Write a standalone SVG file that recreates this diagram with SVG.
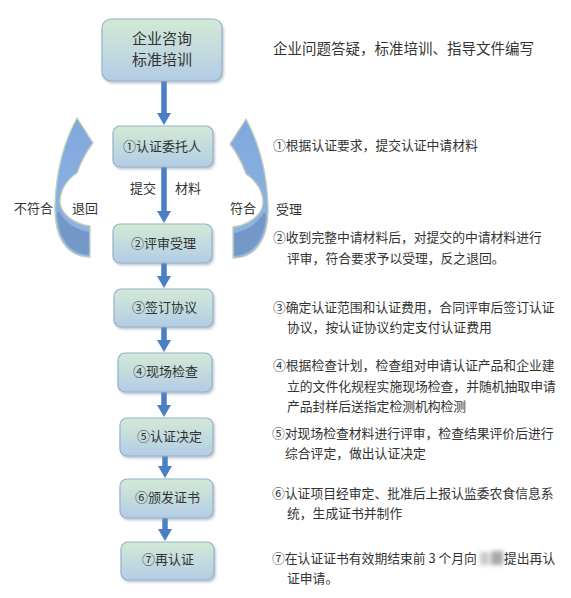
<svg xmlns="http://www.w3.org/2000/svg" width="571" height="598" viewBox="0 0 571 598">
<defs>
<linearGradient id="boxg" x1="0" y1="0" x2="0" y2="1">
<stop offset="0" stop-color="#d3ead5"/>
<stop offset="1" stop-color="#b3cce6"/>
</linearGradient>
<linearGradient id="arrg" x1="0" y1="0" x2="0" y2="1">
<stop offset="0" stop-color="#7fa8de"/>
<stop offset="1" stop-color="#93b6e3"/>
</linearGradient>
<filter id="sh" x="-10%" y="-10%" width="125%" height="130%">
<feDropShadow dx="1.5" dy="2" stdDeviation="1.2" flood-color="#7a8a99" flood-opacity="0.45"/>
</filter>
<filter id="blur" x="-30%" y="-50%" width="160%" height="200%">
<feGaussianBlur stdDeviation="2"/>
</filter>
<marker id="ah" viewBox="0 0 12 14" refX="4" refY="7" markerWidth="12" markerHeight="14" markerUnits="userSpaceOnUse" orient="auto">
<path d="M0,0 L12,7 L0,14 z" fill="#4a7fc4"/>
</marker>
</defs>
<style>
.box{fill:url(#boxg);stroke:#93b2cd;stroke-width:1.2;filter:url(#sh)}
.bt{font-family:"Noto Sans CJK SC",sans-serif;font-size:13px;fill:#333}
.tt{font-family:"Noto Sans CJK SC",sans-serif;font-size:15px;fill:#333}
.rt{font-family:"Noto Sans CJK SC",sans-serif;font-size:12.8px;fill:#333}
.h{font-family:"Noto Sans CJK SC",sans-serif;font-size:14.5px;fill:#333}
.lk{stroke:#4a7fc4;stroke-width:5.5;fill:none;marker-end:url(#ah)}
.carr{fill:url(#arrg);stroke:#c3d0b8;stroke-width:1.3}
.cdark{fill:#6f93c2;opacity:0.85}
</style>
<rect width="571" height="598" fill="#ffffff"/>

<g id="connectors">
<line class="lk" x1="164" y1="81" x2="164" y2="117"/>
<line class="lk" x1="164" y1="167" x2="164" y2="215"/>
<line class="lk" x1="164" y1="263" x2="164" y2="280"/>
<line class="lk" x1="164" y1="327" x2="164" y2="344"/>
<line class="lk" x1="164" y1="392" x2="164" y2="409"/>
<line class="lk" x1="165" y1="456" x2="165" y2="470"/>
<line class="lk" x1="165" y1="518" x2="165" y2="533"/>
</g>

<g id="loop-left">
<path class="carr" d="M77,118 L93,143 Q83,156 77,173 C66,180 60,191 60,202 C61,215 75,224 90,226 L90,257 C65,257 54,235 55,205 C56,170 65,140 77,118 Z"/>
<path class="cdark" d="M59,211 C64,222 77,230 89,232 L89,255 C68,254 58,236 57,213 Z"/>
</g>
<g id="loop-right" transform="translate(323,1) scale(-1,1)">
<path class="carr" d="M77,118 L93,143 Q83,156 77,173 C66,180 60,191 60,202 C61,215 75,224 90,226 L90,257 C65,257 54,235 55,205 C56,170 65,140 77,118 Z"/>
<path class="cdark" d="M59,211 C64,222 77,230 89,232 L89,255 C68,254 58,236 57,213 Z"/>
</g>

<g id="node-consult">
<rect class="box" x="102" y="19" width="120" height="62" rx="9"/>
<text class="tt" x="162" y="43.5" text-anchor="middle">企业咨询</text>
<text class="tt" x="162" y="64.5" text-anchor="middle">标准培训</text>
</g>
<g id="node-1">
<rect class="box" x="113" y="126" width="100" height="41" rx="7"/>
<text class="bt" x="123" y="151">①认证委托人</text>
</g>
<g id="node-2">
<rect class="box" x="113" y="224" width="99" height="39" rx="7"/>
<text class="bt" x="131" y="248">②评审受理</text>
</g>
<g id="node-3">
<rect class="box" x="114" y="289" width="99" height="38" rx="7"/>
<text class="bt" x="132" y="312">③签订协议</text>
</g>
<g id="node-4">
<rect class="box" x="118" y="353" width="94" height="39" rx="7"/>
<text class="bt" x="133" y="376">④现场检查</text>
</g>
<g id="node-5">
<rect class="box" x="120" y="418" width="93" height="38" rx="7"/>
<text class="bt" x="137" y="441">⑤认证决定</text>
</g>
<g id="node-6">
<rect class="box" x="120" y="479" width="93" height="39" rx="7"/>
<text class="bt" x="135" y="502">⑥颁发证书</text>
</g>
<g id="node-7">
<rect class="box" x="121" y="542" width="93" height="38" rx="7"/>
<text class="bt" x="142" y="564">⑦再认证</text>
</g>

<g id="labels">
<text class="bt" x="130" y="193">提交</text>
<text class="bt" x="175" y="193">材料</text>
<text class="bt" x="14" y="213">不符合</text>
<text class="bt" x="72" y="213">退回</text>
<text class="bt" x="230" y="213">符合</text>
<text class="bt" x="276" y="214">受理</text>
</g>

<g id="descriptions">
<text class="h" x="273" y="53.5">企业问题答疑，标准培训、指导文件编写</text>
<text class="rt" x="273" y="150">①根据认证要求，提交认证中请材料</text>
<text class="rt" x="273" y="242">②收到完整中请材料后，对提交的中请材料进行</text>
<text class="rt" x="287" y="263">评审，符合要求予以受理，反之退回。</text>
<text class="rt" x="273" y="312">③确定认证范围和认证费用，合同评审后签订认证</text>
<text class="rt" x="287" y="332">协议，按认证协议约定支付认证费用</text>
<text class="rt" x="273" y="370">④根据检查计划，检查组对申请认证产品和企业建</text>
<text class="rt" x="287" y="391">立的文件化规程实施现场检查，并随机抽取申请</text>
<text class="rt" x="287" y="411">产品封样后送指定检测机构检测</text>
<text class="rt" x="272" y="438">⑤对现场检查材料进行评审，检查结果评价后进行</text>
<text class="rt" x="285" y="458">综合评定，做出认证决定</text>
<text class="rt" x="272" y="498">⑥认证项目经审定、批准后上报认监委农食信息系</text>
<text class="rt" x="287" y="518">统，生成证书并制作</text>
<text class="rt" x="272" y="563">⑦在认证证书有效期结束前 3 个月向</text>
<g filter="url(#blur)">
<rect x="480" y="552" width="9" height="13" fill="#c8c8c8"/>
<rect x="491" y="551" width="12" height="14" fill="#a8a8a8"/>
</g>
<text class="rt" x="504" y="563">提出再认</text>
<text class="rt" x="287" y="583">证申请。</text>
</g>
</svg>
